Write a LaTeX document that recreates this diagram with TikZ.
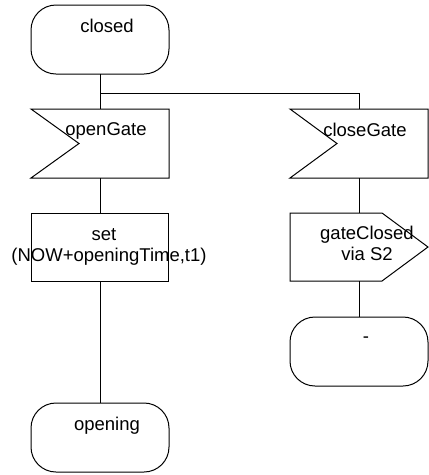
\documentclass[tikz,border=0pt]{standalone}
\usepackage{fontspec}
\setmainfont{Liberation Sans}
\begin{document}
\begin{tikzpicture}[x=1pt,y=-1pt,
  every node/.style={inner sep=0pt, outer sep=0pt},
  line/.style={line width=1pt},
  statebox/.style={draw, line width=1pt, rectangle, rounded corners=25pt, minimum width=138pt, minimum height=69pt},
  plainbox/.style={rectangle, minimum width=138pt, minimum height=69pt},
  taskbox/.style={draw, line width=1pt, rectangle, minimum width=137pt, minimum height=68pt},
  lbl/.style={anchor=base, font=\fontsize{18.5}{20}\selectfont}
]
\useasboundingbox (0,0) rectangle (429,475);
% left column
\node[statebox] (closed) at (100,39.5) {};
\node[plainbox] (open) at (100,143.5) {};
\node[taskbox] (set) at (100,247) {};
\node[statebox] (opening) at (100,437.5) {};
% right column
\node[plainbox, minimum height=69pt] (close) at (359,143.5) {};
\node[plainbox, minimum height=68pt] (out) at (359,247) {};
\node[statebox] (dash) at (359,351.5) {};
% input shapes
\draw[line] (open.north west) -- (open.north east) -- (open.south east) -- (open.south west) -- ([xshift=48pt]open.west) -- cycle;
\draw[line] (close.north west) -- (close.north east) -- (close.south east) -- (close.south west) -- ([xshift=47pt]close.west) -- cycle;
% output shape
\draw[line] (out.north west) -- ([xshift=-46pt]out.north east) -- (out.east) -- ([xshift=-46pt]out.south east) -- (out.south west) -- cycle;
% texts
\node[lbl] (t1) at (107,32) {closed};
\node[lbl] (t2) at (106,135) {openGate};
\node[lbl] (t3) at (104,240) {set};
\node[lbl] (t4) at (109,261) {(NOW+openingTime,t1)};
\node[lbl] (t5) at (107,430) {opening};
\node[lbl] (t6) at (365,136) {closeGate};
\node[lbl] (t7) at (367,239) {gateClosed};
\node[lbl] (t8) at (367,260) {via S2};
\node[lbl] (t9) at (366,342) {-};
% connectors
\coordinate (br) at (100,93);
\draw[line] (closed.south) -- (open.north);
\draw[line] (br) -| (close.north);
\draw[line] (open.south) -- (set.north);
\draw[line] (set.south) -- (opening.north);
\draw[line] (close.south) -- (out.north);
\draw[line] (out.south) -- (dash.north);
\end{tikzpicture}
\end{document}
